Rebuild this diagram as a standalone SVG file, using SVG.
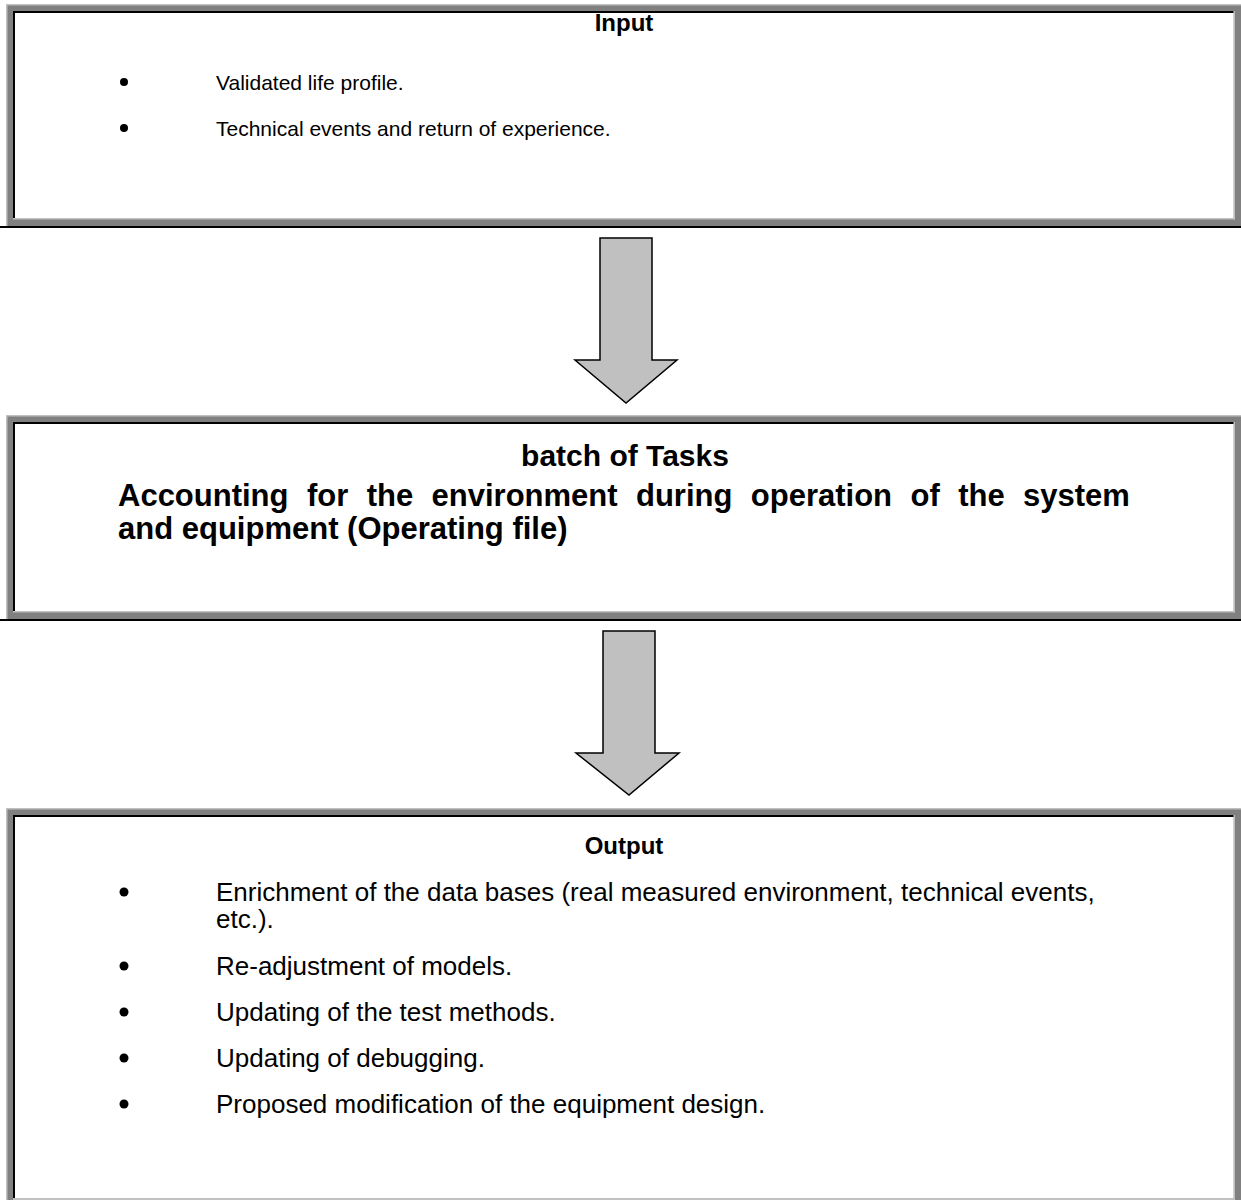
<svg xmlns="http://www.w3.org/2000/svg" width="1241" height="1200" viewBox="0 0 1241 1200">
  <style>
    .frame { fill: #808080; }
    .hl { fill: #c0c0c0; }
    .ink { fill: #000000; }
    .body { fill: #ffffff; }
    .title { font-family: "Liberation Sans", Arial, sans-serif; font-weight: bold; font-size: 24px; fill: #000; text-anchor: middle; }
    .sub { font-family: "Liberation Sans", Arial, sans-serif; font-weight: bold; font-size: 30px; fill: #000; text-anchor: middle; }
    .head { font-family: "Liberation Sans", Arial, sans-serif; font-weight: bold; font-size: 31px; fill: #000; }
    .small { font-family: "Liberation Sans", Arial, sans-serif; font-size: 21px; fill: #000; }
    .item { font-family: "Liberation Sans", Arial, sans-serif; font-size: 26px; fill: #000; }
    .arrow { fill: #c0c0c0; stroke: #000; stroke-width: 1.5; stroke-linejoin: miter; }
  </style>
  <rect width="1241" height="1200" fill="#ffffff"/>

  <!-- Input box -->
  <g id="input">
    <rect class="frame" x="6" y="4" width="1235" height="222"/>
    <rect class="hl" x="6" y="4" width="1235" height="1.5"/>
    <rect class="hl" x="6" y="4" width="1.5" height="222"/>
    <rect class="hl" x="13" y="218" width="1222" height="1.5"/>
    <rect class="hl" x="1233.5" y="11" width="1.5" height="208.5"/>
    <rect class="body" x="13" y="11" width="1220.5" height="207"/>
    <rect class="ink" x="13" y="11" width="1220.5" height="2"/>
    <rect class="ink" x="13" y="11" width="2" height="207"/>
    <rect class="ink" x="0" y="226" width="1241" height="2"/>
    <text class="title" x="624" y="31">Input</text>
    <circle cx="124" cy="82" r="4"/>
    <text class="small" x="216" y="89.5">Validated life profile.</text>
    <circle cx="124" cy="128" r="4"/>
    <text class="small" x="216" y="135.5">Technical events and return of experience.</text>
  </g>

  <!-- Tasks box -->
  <g id="tasks">
    <rect class="frame" x="6" y="415" width="1235" height="204"/>
    <rect class="hl" x="6" y="415" width="1235" height="1.5"/>
    <rect class="hl" x="6" y="415" width="1.5" height="204"/>
    <rect class="hl" x="13" y="611" width="1222" height="1.5"/>
    <rect class="hl" x="1233.5" y="422" width="1.5" height="190.5"/>
    <rect class="body" x="13" y="422" width="1220.5" height="189"/>
    <rect class="ink" x="13" y="422" width="1220.5" height="2"/>
    <rect class="ink" x="13" y="422" width="2" height="189"/>
    <rect class="ink" x="0" y="619" width="1241" height="2"/>
    <text class="sub" x="625" y="466">batch of Tasks</text>
    <text class="head" x="118" y="506" word-spacing="9.8">Accounting for the environment during operation of the system</text>
    <text class="head" x="118" y="539">and equipment (Operating file)</text>
  </g>

  <!-- Output box -->
  <g id="output">
    <rect class="frame" x="6" y="808" width="1235" height="392"/>
    <rect class="hl" x="6" y="808" width="1235" height="1.5"/>
    <rect class="hl" x="6" y="808" width="1.5" height="392"/>
    <rect class="hl" x="13" y="1198" width="1222" height="2"/>
    <rect class="hl" x="1233.5" y="815" width="1.5" height="385"/>
    <rect class="body" x="13" y="815" width="1220.5" height="383"/>
    <rect class="ink" x="13" y="815" width="1220.5" height="2"/>
    <rect class="ink" x="13" y="815" width="2" height="383"/>
    <text class="title" x="624" y="854">Output</text>
    <circle cx="124" cy="892" r="4.5"/>
    <text class="item" x="216" y="901">Enrichment of the data bases (real measured environment, technical events,</text>
    <text class="item" x="216" y="928">etc.).</text>
    <circle cx="124" cy="966" r="4.5"/>
    <text class="item" x="216" y="975">Re-adjustment of models.</text>
    <circle cx="124" cy="1012" r="4.5"/>
    <text class="item" x="216" y="1021">Updating of the test methods.</text>
    <circle cx="124" cy="1058" r="4.5"/>
    <text class="item" x="216" y="1067">Updating of debugging.</text>
    <circle cx="124" cy="1104" r="4.5"/>
    <text class="item" x="216" y="1113">Proposed modification of the equipment design.</text>
  </g>

  <!-- Block arrows between the boxes -->
  <g id="connectors">
    <polygon class="arrow" points="600,238 652,238 652,360 677,360 626,403 575,360 600,360"/>
    <polygon class="arrow" points="603,631 655,631 655,753 679,753 629,795 576,753 603,753"/>
  </g>
</svg>
